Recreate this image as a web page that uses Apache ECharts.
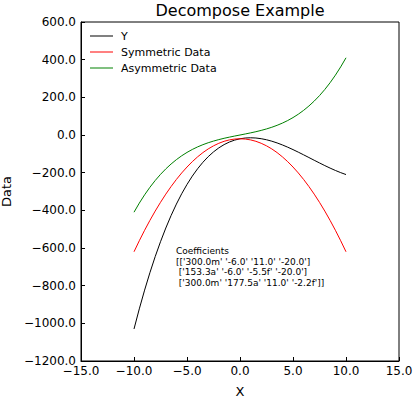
<!DOCTYPE html>
<html><head><meta charset="utf-8">
<script src="https://cdn.jsdelivr.net/npm/echarts@6/dist/echarts.min.js"></script>
<style>html,body{margin:0;padding:0;background:#fff}#c{width:416px;height:400px}</style>
</head><body><div id="c"></div>
<script>
var xs = [-10,-9.5,-9,-8.5,-8,-7.5,-7,-6.5,-6,-5.5,-5,-4.5,-4,-3.5,-3,-2.5,-2,-1.5,-1,-0.5,0,0.5,1,1.5,2,2.5,3,3.5,4,4.5,5,5.5,6,6.5,7,7.5,8,8.5,9,9.5,10];
var yData = [-1030,-923.2,-823.7,-731.2,-645.6,-566.6,-493.9,-427.4,-366.8,-311.9,-262.5,-218.3,-179.2,-144.9,-115.1,-89.7,-68.4,-51.0,-37.3,-27.0,-20,-16.0,-14.7,-16.0,-19.6,-25.3,-32.9,-42.1,-52.8,-64.7,-77.5,-91.1,-105.2,-119.6,-134.1,-148.4,-162.4,-175.8,-188.3,-199.8,-210];
var symData = [-620,-561.5,-506,-453.5,-404,-357.5,-314,-273.5,-236,-201.5,-170,-141.5,-116,-93.5,-74,-57.5,-44,-33.5,-26,-21.5,-20,-21.5,-26,-33.5,-44,-57.5,-74,-93.5,-116,-141.5,-170,-201.5,-236,-273.5,-314,-357.5,-404,-453.5,-506,-561.5,-620];
var asymData = [-410,-361.7,-317.7,-277.7,-241.6,-209.1,-179.9,-153.9,-130.8,-110.4,-92.5,-76.8,-63.2,-51.4,-41.1,-32.2,-24.4,-17.5,-11.3,-5.5,0,5.5,11.3,17.5,24.4,32.2,41.1,51.4,63.2,76.8,92.5,110.4,130.8,153.9,179.9,209.1,241.6,277.7,317.7,361.7,410];
var seriesNames = ['Y','Symmetric Data','Asymmetric Data'];
var titleText = 'Decompose Example';
var annotationLines = ['Coefficients', "[['300.0m' '-6.0' '11.0' '-20.0']", " ['153.3a' '-6.0' '-5.5f' '-20.0']", " ['300.0m' '177.5a' '11.0' '-2.2f']]"];

function pairs(ys){ return xs.map(function(x,i){ return [x, ys[i]]; }); }
function fmt(v){ var s = Math.abs(v).toFixed(1); return (v < 0 ? '\u2212' : '') + s; }
var font = 'DejaVu Sans';
var chart = echarts.init(document.getElementById('c'), null, {renderer:'svg'});
var colors = ['#000000','#ff0000','#008000'];
function mkSeries(i, ys){
  return {name:seriesNames[i],type:'line',data:pairs(ys),symbol:'none',showSymbol:false,
    lineStyle:{color:colors[i],width:1},itemStyle:{color:colors[i]}};
}
chart.setOption({
  animation:false,
  backgroundColor:'#fff',
  title:{text:titleText,left:240,top:2,padding:0,textAlign:'center',textStyle:{fontFamily:font,fontSize:16,fontWeight:'normal',color:'#000'}},
  legend:{orient:'vertical',left:90,top:30,padding:0,itemWidth:23,itemHeight:1,itemGap:4,icon:'rect',
    data:seriesNames,textStyle:{fontFamily:font,fontSize:11,color:'#000',lineHeight:12,padding:[0,0,0,3]}},
  grid:{left:81,right:17,top:22,bottom:39,outerBoundsMode:'none',containLabel:false,show:true,borderColor:'#000',borderWidth:1,backgroundColor:'transparent'},
  xAxis:{type:'value',min:-15,max:15,interval:5,name:'X',nameLocation:'middle',nameGap:24,
    nameTextStyle:{fontFamily:font,fontSize:13,color:'#000'},
    axisLine:{show:true,onZero:false,lineStyle:{color:'#000'}},
    axisTick:{show:true,inside:true,length:4,lineStyle:{color:'#000'}},
    axisLabel:{fontFamily:font,fontSize:12,color:'#000',margin:4,formatter:fmt},
    splitLine:{show:false}},
  yAxis:{type:'value',min:-1200,max:600,interval:200,name:'Data',nameLocation:'middle',nameGap:59,
    nameTextStyle:{fontFamily:font,fontSize:13,color:'#000'},
    axisLine:{show:true,onZero:false,lineStyle:{color:'#000'}},
    axisTick:{show:true,inside:true,length:4,lineStyle:{color:'#000'}},
    axisLabel:{fontFamily:font,fontSize:12,color:'#000',margin:5,formatter:fmt},
    splitLine:{show:false}},
  series:[mkSeries(0,yData),mkSeries(1,symData),mkSeries(2,asymData)],
  graphic:[{type:'text',left:176,top:246,style:{text:annotationLines.join('\n'),fontFamily:font,fontSize:9,lineHeight:10.5,fill:'#000'}}]
});
</script></body></html>
